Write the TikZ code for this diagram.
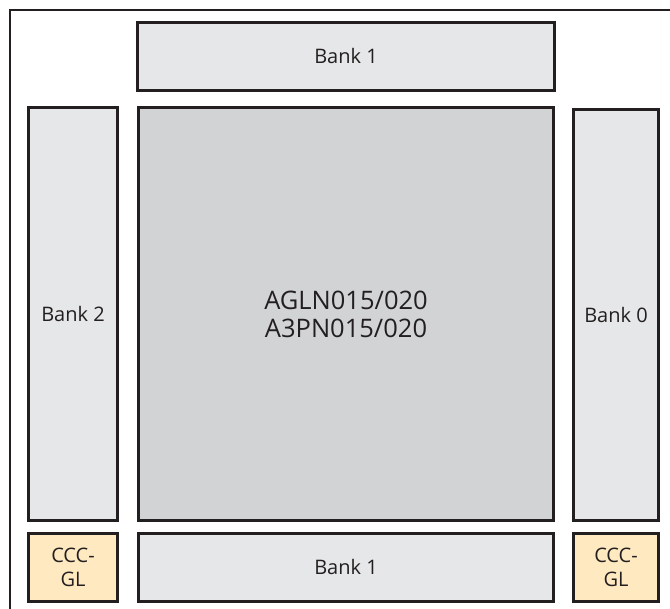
\documentclass[tikz,border=0pt]{standalone}
\usepackage{fontspec}
\setmainfont{Open Sans}
\usetikzlibrary{positioning}
\definecolor{ink}{HTML}{231F20}
\definecolor{bankfill}{HTML}{E6E7E8}
\definecolor{corefill}{HTML}{D1D3D4}
\definecolor{cccfill}{HTML}{FFE9C1}
\tikzset{
  blk/.style={draw=ink,line width=3pt,inner sep=0pt,align=center,
              font=\fontsize{20}{24}\selectfont,text=ink},
  bank/.style={blk,fill=bankfill},
  core/.style={blk,fill=corefill,font=\fontsize{25.5}{28}\selectfont},
  ccc/.style={blk,fill=cccfill},
}

\begin{document}
\begin{tikzpicture}[x=1pt,y=-1pt]
    \clip (0,0) rectangle (670,609);
    \fill[white] (0,0) rectangle (670,609);
    % die outline, runs off the right and bottom edges
    \draw[ink,line width=2.5pt] (10,10) rectangle (700,640);
    \foreach \nm/\x/\y/\w/\h/\sty/\txt in {
      banktop/346/56.5/417/68/bank/{Bank 1},
      bankleft/73/314/89/413/bank/{Bank 2},
      fabric/346/314/415/413/core/{AGLN015/020\\A3PN015/020},
      bankright/616/315/85/411/bank/{Bank 0},
      cccleft/73/567.5/89/68/ccc/{CCC-\\GL},
      bankbot/346/567.5/415/68/bank/{Bank 1},
      cccright/616/567.5/85/68/ccc/{CCC-\\GL}%
    }{
      \node[\sty,minimum width=\w pt,minimum height=\h pt] (\nm) at (\x,\y) {\txt};
    }
  \end{tikzpicture}
\end{document}
